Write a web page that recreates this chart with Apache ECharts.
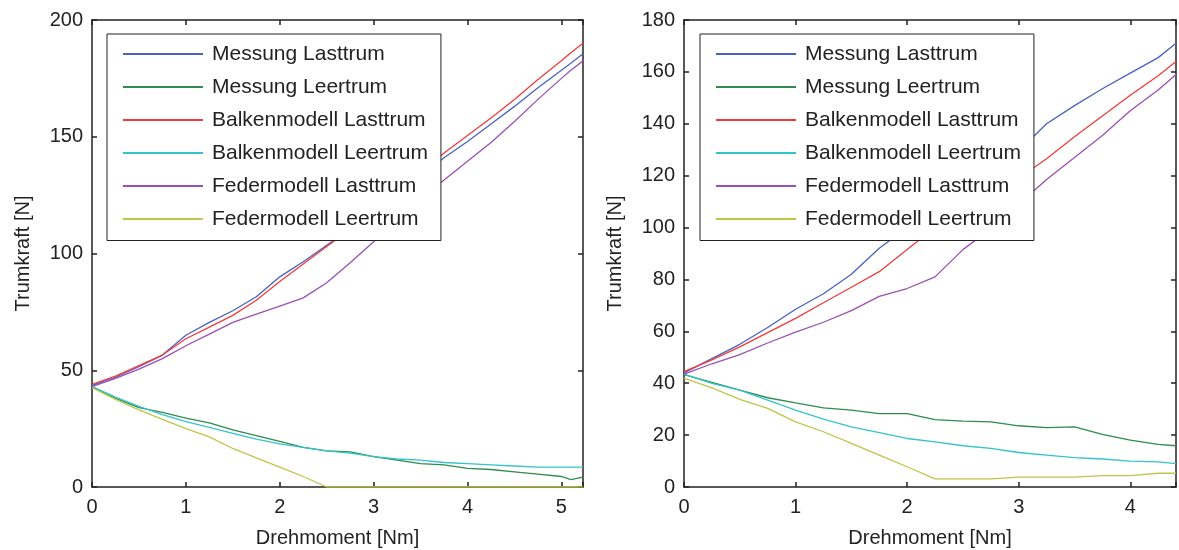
<!DOCTYPE html>
<html>
<head>
<meta charset="utf-8">
<script src="https://cdn.jsdelivr.net/npm/echarts@6/dist/echarts.min.js"></script>
<style>
  html, body { margin: 0; padding: 0; background: #fff; }
  #chart { width: 1179px; height: 550px; }
</style>
</head>
<body>
<div id="chart"></div>
<script>
// Series names (shared by both panels)
const seriesNames = [
  'Messung Lasttrum',
  'Messung Leertrum',
  'Balkenmodell Lasttrum',
  'Balkenmodell Leertrum',
  'Federmodell Lasttrum',
  'Federmodell Leertrum'
];

// Left panel: torque samples [Nm]
const leftTorque = [0, 0.25, 0.5, 0.75, 1, 1.25, 1.5, 1.75, 2, 2.25, 2.5, 2.75, 3, 3.25, 3.5, 3.75, 4, 4.25, 4.5, 4.75, 5, 5.1, 5.23];
// Left panel: strand forces [N]
const leftMessLast  = [43.5, 47, 51.5, 56.5, 65, 70.5, 75.5, 81.5, 90, 96.5, 103.5, 110.5, 118, 125.5, 133, 141, 148, 155.5, 163, 171, 178.5, 181.5, 185.5];
const leftMessLeer  = [43, 38, 34, 32, 29.5, 27.5, 24.5, 22, 19.5, 17, 15.5, 15, 13, 11.5, 10, 9.5, 8, 7.5, 6.5, 5.5, 4.5, 3.2, 4.2];
const leftBalkLast  = [44, 47.5, 52, 56.5, 63.5, 68.5, 73.5, 80, 88, 95.5, 103, 110.5, 118.5, 126, 134, 143, 150.5, 158, 166, 174.5, 182.5, 186, 190];
const leftBalkLeer  = [43, 38.5, 34.5, 31, 28, 25.5, 23, 20.5, 18.5, 17, 15.5, 14.5, 13, 12, 11.5, 10.5, 10, 9.5, 9, 8.5, 8.5, 8.5, 8.5];
const leftFederLast = [43, 46.5, 50.5, 55, 60.5, 65.5, 70.5, 74, 77.5, 81, 87.5, 96, 105, 114, 123, 131.5, 139.5, 147.5, 156.5, 166, 175, 178.5, 182.5];
const leftFederLeer = [42.5, 37.5, 33, 29, 25, 21.5, 16.5, 12.5, 8.5, 4.5, 0, 0, 0, 0, 0, 0, 0, 0, 0, 0, 0, 0, 0];

// Right panel: torque samples [Nm]
const rightTorque = [0, 0.25, 0.5, 0.75, 1, 1.25, 1.5, 1.75, 2, 2.25, 2.5, 2.75, 3, 3.25, 3.5, 3.75, 4, 4.25, 4.41];
// Right panel: strand forces [N]
const rightMessLast  = [44, 49.5, 55, 61.5, 68.5, 74.5, 82, 92, 100, 107, 114, 121.5, 129.5, 140, 147, 153.5, 159.5, 165.5, 171];
const rightMessLeer  = [43.3, 40.3, 37.3, 34.4, 32.4, 30.5, 29.6, 28.3, 28.3, 26, 25.4, 25.1, 23.6, 22.9, 23.2, 20.3, 18.1, 16.4, 15.9];
const rightBalkLast  = [44.5, 49, 54, 59.5, 65, 71, 77, 83, 91.5, 100, 106, 112.5, 119, 126.5, 135, 143, 151, 158.5, 164];
const rightBalkLeer  = [43.5, 39.9, 37.3, 33.5, 29.6, 26.2, 23.2, 21, 18.7, 17.4, 15.9, 14.9, 13.3, 12.3, 11.3, 10.8, 10, 9.7, 9];
const rightFederLast = [43.5, 47.5, 51, 55.5, 59.7, 63.5, 68, 73.5, 76.5, 81, 91.5, 99.5, 109, 118.5, 127, 135.5, 145, 153, 159];
const rightFederLeer = [42, 38.2, 33.8, 30.3, 25.1, 21.3, 16.8, 12.3, 7.8, 3.1, 3.1, 3.1, 3.8, 3.8, 3.8, 4.4, 4.4, 5.3, 5.3];

// Axis ranges and tick steps
const leftXMax = 5.23, leftYMax = 200, leftYStep = 50;
const rightXMax = 4.41, rightYMax = 180, rightYStep = 20;

const colors = ['#4862c2', '#2f8b4f', '#f03c3c', '#33c4c9', '#9c4fb4', '#bec64a'];
const FONT = 'Liberation Sans, Arial, sans-serif';
const INK = '#222';

const leftSets  = [leftMessLast, leftMessLeer, leftBalkLast, leftBalkLeer, leftFederLast, leftFederLeer];
const rightSets = [rightMessLast, rightMessLeer, rightBalkLast, rightBalkLeer, rightFederLast, rightFederLeer];

function pairs(xs, ys) { return xs.map((x, i) => [x, ys[i]]); }

function intLabel(v) {
  return Math.abs(v - Math.round(v)) < 1e-6 ? String(Math.round(v)) : '';
}

function xAxisDef(gridIndex, max, position, showLabels) {
  return {
    type: 'value', gridIndex: gridIndex, position: position,
    min: 0, max: max, interval: 1,
    name: showLabels ? 'Drehmoment [Nm]' : '',
    nameLocation: 'middle', nameGap: 41,
    nameTextStyle: { fontFamily: FONT, fontSize: 20, color: INK },
    axisLine: { show: true, onZero: false, lineStyle: { color: INK, width: 1.5 } },
    axisTick: { show: true, inside: true, length: 5, lineStyle: { color: INK, width: 1.5 } },
    axisLabel: { show: showLabels, margin: 10, fontFamily: FONT, fontSize: 20, color: INK, formatter: intLabel },
    splitLine: { show: false }
  };
}

function yAxisDef(gridIndex, max, step, position, showLabels) {
  return {
    type: 'value', gridIndex: gridIndex, position: position,
    min: 0, max: max, interval: step,
    name: showLabels ? 'Trumkraft [N]' : '',
    nameLocation: 'middle', nameGap: 59,
    nameTextStyle: { fontFamily: FONT, fontSize: 20, color: INK },
    axisLine: { show: true, onZero: false, lineStyle: { color: INK, width: 1.5 } },
    axisTick: { show: true, inside: true, length: 5, lineStyle: { color: INK, width: 1.5 } },
    axisLabel: { show: showLabels, margin: 9, fontFamily: FONT, fontSize: 20, color: INK },
    splitLine: { show: false }
  };
}

function legendDef(left) {
  return {
    left: left, top: 34, orient: 'vertical',
    itemWidth: 80, itemHeight: 21, itemGap: 12,
    padding: [9.5, 13, 11, 15],
    borderColor: INK, borderWidth: 1, backgroundColor: '#fff',
    selectedMode: false,
    itemStyle: { opacity: 0, borderWidth: 0 },
    textStyle: { fontFamily: FONT, fontSize: 21, color: INK, padding: [0, 0, 0, 4] },
    data: seriesNames
  };
}

const series = [];
seriesNames.forEach((name, i) => {
  series.push({
    name: name, type: 'line', xAxisIndex: 0, yAxisIndex: 0,
    data: pairs(leftTorque, leftSets[i]),
    symbol: 'none', lineStyle: { width: 1.3, color: colors[i] }, itemStyle: { color: colors[i] },
    animation: false
  });
  series.push({
    name: name, type: 'line', xAxisIndex: 2, yAxisIndex: 2,
    data: pairs(rightTorque, rightSets[i]),
    symbol: 'none', lineStyle: { width: 1.3, color: colors[i] }, itemStyle: { color: colors[i] },
    animation: false
  });
});

const chart = echarts.init(document.getElementById('chart'), null, { renderer: 'canvas' });
chart.setOption({
  backgroundColor: '#fff',
  animation: false,
  grid: [
    { left: 92, top: 20, width: 491, height: 467, outerBoundsMode: 'none', containLabel: false },
    { left: 684, top: 20, width: 492, height: 467, outerBoundsMode: 'none', containLabel: false }
  ],
  xAxis: [
    xAxisDef(0, leftXMax, 'bottom', true),
    xAxisDef(0, leftXMax, 'top', false),
    xAxisDef(1, rightXMax, 'bottom', true),
    xAxisDef(1, rightXMax, 'top', false)
  ],
  yAxis: [
    yAxisDef(0, leftYMax, leftYStep, 'left', true),
    yAxisDef(0, leftYMax, leftYStep, 'right', false),
    yAxisDef(1, rightYMax, rightYStep, 'left', true),
    yAxisDef(1, rightYMax, rightYStep, 'right', false)
  ],
  legend: [legendDef(107), legendDef(700)],
  series: series
});
</script>
</body>
</html>
